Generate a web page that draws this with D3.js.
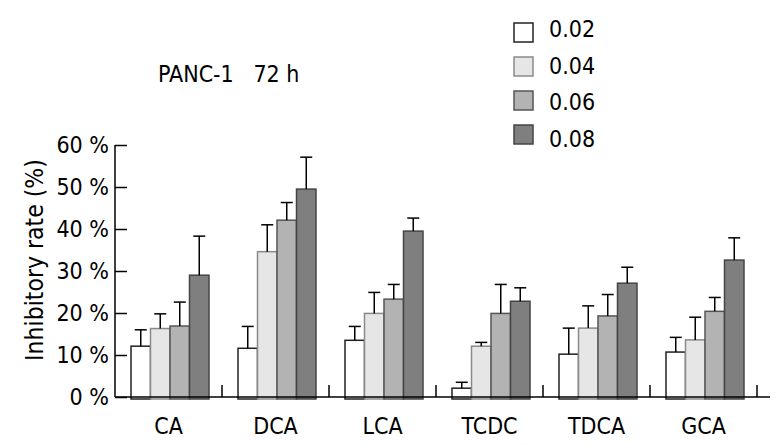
<!DOCTYPE html>
<html>
<head>
<meta charset="utf-8">
<script src="https://cdn.jsdelivr.net/npm/d3@7"></script>
<style>
  body { margin: 0; background: #fff; }
  text { font-family: "DejaVu Sans Condensed", "DejaVu Sans", Verdana, sans-serif; font-stretch: condensed; fill: #000; }
</style>
</head>
<body>
<script>
var groups = ["CA", "DCA", "LCA", "TCDC", "TDCA", "GCA"];
var doses = ["0.02", "0.04", "0.06", "0.08"];
// mean inhibitory rate (%) per dose, one value per group
var mean002 = [12.1, 11.6, 13.5, 2.1, 10.2, 10.7];
var mean004 = [16.3, 34.6, 19.9, 12.1, 16.4, 13.6];
var mean006 = [16.9, 42.1, 23.3, 19.9, 19.3, 20.4];
var mean008 = [29.0, 49.5, 39.5, 22.8, 27.1, 32.6];
// top of error bar (%)
var err002 = [16.0, 16.8, 16.8, 3.5, 16.4, 14.2];
var err004 = [19.8, 41.0, 24.9, 13.0, 21.7, 19.0];
var err006 = [22.6, 46.3, 26.8, 26.8, 24.4, 23.7];
var err008 = [38.3, 57.1, 42.6, 26.0, 30.9, 37.9];
var yTicks = [0, 10, 20, 30, 40, 50, 60];

var fills = ["#ffffff", "#e6e6e6", "#b3b3b3", "#7f7f7f"];
var strokes = ["#222", "#8a8a8a", "#555", "#444"];

var means = [mean002, mean004, mean006, mean008];
var errs = [err002, err004, err006, err008];

var width = 777, height = 446;
var margin = {top: 145, right: 20, bottom: 49, left: 115};
var w = 757 - margin.left;
var h = height - margin.top - margin.bottom;

var svg = d3.select("body").append("svg")
    .attr("width", width)
    .attr("height", height);

var g = svg.append("g")
    .attr("transform", "translate(" + margin.left + "," + margin.top + ")");

var x0 = d3.scaleBand().domain(groups).range([0, w]);
var x1 = d3.scaleBand().domain(doses).range([16, 94]);
var y = d3.scaleLinear().domain([0, 60]).range([h, 0]);

var data = [];
groups.forEach(function(grp, i) {
    doses.forEach(function(d, j) {
        data.push({group: grp, dose: d, j: j, value: means[j][i], err: errs[j][i]});
    });
});

// bars
g.selectAll("rect.bar")
    .data(data)
    .enter()
    .append("rect")
    .attr("class", "bar")
    .attr("x", function(d) { return x0(d.group) + x1(d.dose); })
    .attr("y", function(d) { return y(d.value); })
    .attr("width", x1.bandwidth())
    .attr("height", function(d) { return h - y(d.value) + 2; })
    .attr("fill", function(d) { return fills[d.j]; })
    .attr("stroke", function(d) { return strokes[d.j]; })
    .attr("stroke-width", 1.5);

// error bars
var eb = g.selectAll("g.err")
    .data(data)
    .enter()
    .append("g")
    .attr("class", "err")
    .attr("transform", function(d) {
        return "translate(" + (x0(d.group) + x1(d.dose) + x1.bandwidth() / 2) + ",0)";
    });
eb.append("line")
    .attr("x1", 0).attr("x2", 0)
    .attr("y1", function(d) { return y(d.value); })
    .attr("y2", function(d) { return y(d.err); })
    .attr("stroke", "#000").attr("stroke-width", 1.5);
eb.append("line")
    .attr("x1", -6).attr("x2", 6)
    .attr("y1", function(d) { return y(d.err); })
    .attr("y2", function(d) { return y(d.err); })
    .attr("stroke", "#000").attr("stroke-width", 1.5);

// y axis
var yAxis = g.append("g")
    .call(d3.axisRight(y).tickValues(yTicks).tickSize(12).tickFormat(""));
yAxis.select(".domain").attr("stroke", "#000").attr("stroke-width", 1.5).attr("d", "M0," + y(60) + "V" + y(0));
yAxis.selectAll(".tick line").attr("stroke", "#000").attr("stroke-width", 1.5);

g.selectAll("text.ytick")
    .data(yTicks)
    .enter()
    .append("text")
    .attr("class", "ytick")
    .attr("x", -6)
    .attr("y", function(d) { return y(d); })
    .attr("dy", "0.36em")
    .attr("text-anchor", "end")
    .style("font-size", "23px")
    .text(function(d) { return d + " %"; });

// x axis
var xAxis = g.append("g")
    .attr("transform", "translate(0," + h + ")");
xAxis.append("line")
    .attr("x1", 0).attr("x2", w + 13)
    .attr("stroke", "#000").attr("stroke-width", 1.5);
xAxis.selectAll("line.sep")
    .data(groups)
    .enter()
    .append("line")
    .attr("class", "sep")
    .attr("x1", function(d) { return x0(d) + x0.bandwidth(); })
    .attr("x2", function(d) { return x0(d) + x0.bandwidth(); })
    .attr("y1", 0).attr("y2", -12)
    .attr("stroke", "#000").attr("stroke-width", 1.5);
xAxis.selectAll("text")
    .data(groups)
    .enter()
    .append("text")
    .attr("x", function(d) { return x0(d) + x0.bandwidth() / 2; })
    .attr("y", 37)
    .attr("text-anchor", "middle")
    .style("font-size", "23px")
    .text(function(d) { return d; });

// y label
svg.append("text")
    .attr("transform", "translate(43,260) rotate(-90)")
    .attr("text-anchor", "middle")
    .style("font-size", "24.5px")
    .text("Inhibitory rate (%)");

// title
svg.append("text")
    .attr("x", 158)
    .attr("y", 82)
    .style("font-size", "23px")
    .style("white-space", "pre")
    .text("PANC-1   72 h");

// legend
var legend = svg.selectAll("g.legend")
    .data(doses)
    .enter()
    .append("g")
    .attr("class", "legend");
legend.append("rect")
    .attr("x", 514)
    .attr("y", function(d, i) { return 23 + i * 34; })
    .attr("width", 19).attr("height", 19)
    .attr("fill", function(d, i) { return fills[i]; })
    .attr("stroke", function(d, i) { return strokes[i]; })
    .attr("stroke-width", 1.5);
legend.append("text")
    .attr("x", 549)
    .attr("y", function(d, i) { return 37 + i * 36.5; })
    .style("font-size", "23px")
    .text(function(d) { return d; });
</script>
</body>
</html>
